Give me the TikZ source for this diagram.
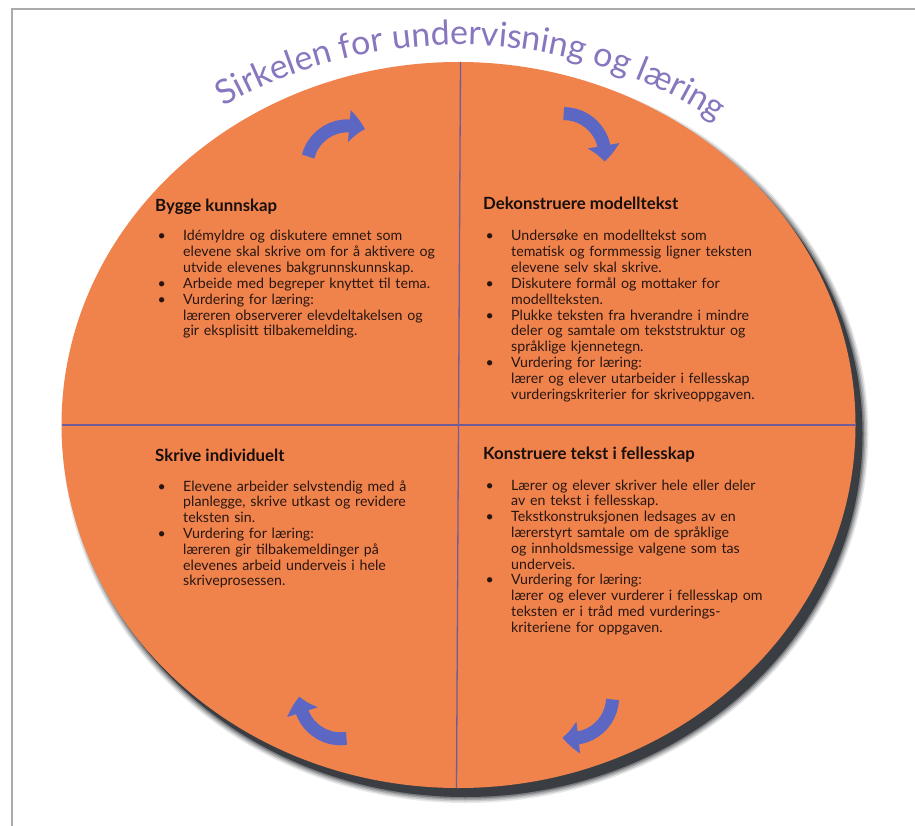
\documentclass[tikz,border=0pt]{standalone}
\usepackage{fontspec}
\setmainfont{Lato}
\usetikzlibrary{shapes.geometric,arrows.meta,bending,decorations.text}
\definecolor{discfill}{RGB}{240,131,76}
\definecolor{divider}{RGB}{112,92,150}
\definecolor{titlec}{RGB}{136,118,190}
\definecolor{arrowc}{RGB}{92,103,196}
\definecolor{bodyc}{RGB}{40,22,18}
\definecolor{headc}{RGB}{24,14,12}
\definecolor{framec}{RGB}{170,170,170}
\definecolor{shadowc}{RGB}{58,62,66}
% one bullet point with a hanging indent
\newcommand\bul[1]{\noindent\hangindent=27pt\hangafter=1\makebox[27pt][l]{\hspace{1.5pt}\textbullet}#1\par}

\begin{document}
\begin{tikzpicture}[x=1pt,y=1pt,
  disc/.style={ellipse, draw=none, fill=discfill, inner sep=0pt, outer sep=0pt,
    minimum width=794pt, minimum height=726pt},
  divline/.style={draw=divider, line width=1.3pt},
  heading/.style={anchor=base west, inner sep=0pt, text=headc,
    font=\fontsize{16.8pt}{18pt}\selectfont\bfseries},
  body/.style={anchor=base west, inner sep=0pt, text=bodyc, text width=330pt,
    align=left, font=\fontsize{14.2pt}{15.8pt}\selectfont},
  flow/.style={draw=arrowc, line width=13pt, -{Triangle[length=16pt,width=31pt,bend]}},
]
\useasboundingbox (0,0) rectangle (915,-826);
\fill[white] (0,0) rectangle (915,-826);
\draw[framec, line width=1.5pt] (12,-826) -- (12,-9) -- (915,-9);

\coordinate (cen) at (458.5,-425);

% soft shadow below and to the right of the disc
\foreach \g/\op in {6/0.12,4.5/0.18,3/0.25,1.5/0.4,0/1} {
  \fill[shadowc, opacity=\op] ([shift={(7pt,-9pt)}]cen)
    ellipse [x radius=397pt+\g pt, y radius=363pt+\g pt];
}

\node[disc] (disc) at (cen) {};
\draw[divline] ([xshift=2pt]disc.north) -- ([xshift=-2pt]disc.south);
\draw[divline] (disc.west) -- (disc.east);

% title bent along the rim
\path[decorate, decoration={text along path, text align=center,
    text={|\fontsize{34pt}{34pt}\selectfont\color{titlec}|Sirkelen for undervisning og læring}}]
  (cen) ++(149:430pt and 380pt)
  arc[start angle=149, end angle=27, x radius=430pt, y radius=380pt];

% curved arrows, clockwise
\coordinate (a1) at (347.8,-166.8);
\draw[flow] (a1) ++(165.5:41pt) arc[start angle=165.5, end angle=65.5, radius=41pt];
\coordinate (a2) at (563.8,-154.6);
\draw[flow] (a2) ++(90.2:41pt) arc[start angle=90.2, end angle=-9.8, radius=41pt];
\coordinate (a3) at (571.6,-697.4);
\draw[flow] (a3) ++(-2.9:41pt) arc[start angle=-2.9, end angle=-102.9, radius=41pt];
\coordinate (a4) at (340.6,-697.8);
\draw[flow] (a4) ++(-81.7:41pt) arc[start angle=-81.7, end angle=-181.7, radius=41pt];

% quadrant texts
\node[heading] (h1) at (155,-212) {Bygge kunnskap};
\node[body] (b1) at (156,-241) {%
\bul{Idémyldre og diskutere emnet som\newline elevene skal skrive om for å aktivere og\newline utvide elevenes bakgrunnskunnskap.}%
\bul{Arbeide med begreper knyttet til tema.}%
\bul{Vurdering for læring:\newline læreren observerer elevdeltakelsen og\newline gir eksplisitt tilbakemelding.}};

\node[heading] (h2) at (483,-210) {Dekonstruere modelltekst};
\node[body] (b2) at (484,-241) {%
\bul{Undersøke en modelltekst som\newline tematisk og formmessig ligner teksten\newline elevene selv skal skrive.}%
\bul{Diskutere formål og mottaker for\newline modellteksten.}%
\bul{Plukke teksten fra hverandre i mindre\newline deler og samtale om tekststruktur og\newline språklige kjennetegn.}%
\bul{Vurdering for læring:\newline lærer og elever utarbeider i fellesskap\newline vurderingskriterier for skriveoppgaven.}};

\node[heading] (h3) at (155,-461) {Skrive individuelt};
\node[body] (b3) at (156,-491) {%
\bul{Elevene arbeider selvstendig med å\newline planlegge, skrive utkast og revidere\newline teksten sin.}%
\bul{Vurdering for læring:\newline læreren gir tilbakemeldinger på\newline elevenes arbeid underveis i hele\newline skriveprosessen.}};

\node[heading] (h4) at (483,-459) {Konstruere tekst i fellesskap};
\node[body] (b4) at (484,-490) {%
\bul{Lærer og elever skriver hele eller deler\newline av en tekst i fellesskap.}%
\bul{Tekstkonstruksjonen ledsages av en\newline lærerstyrt samtale om de språklige\newline og innholdsmessige valgene som tas\newline underveis.}%
\bul{Vurdering for læring:\newline lærer og elever vurderer i fellesskap om\newline teksten er i tråd med vurderings-\newline kriteriene for oppgaven.}};
\end{tikzpicture}
\end{document}
